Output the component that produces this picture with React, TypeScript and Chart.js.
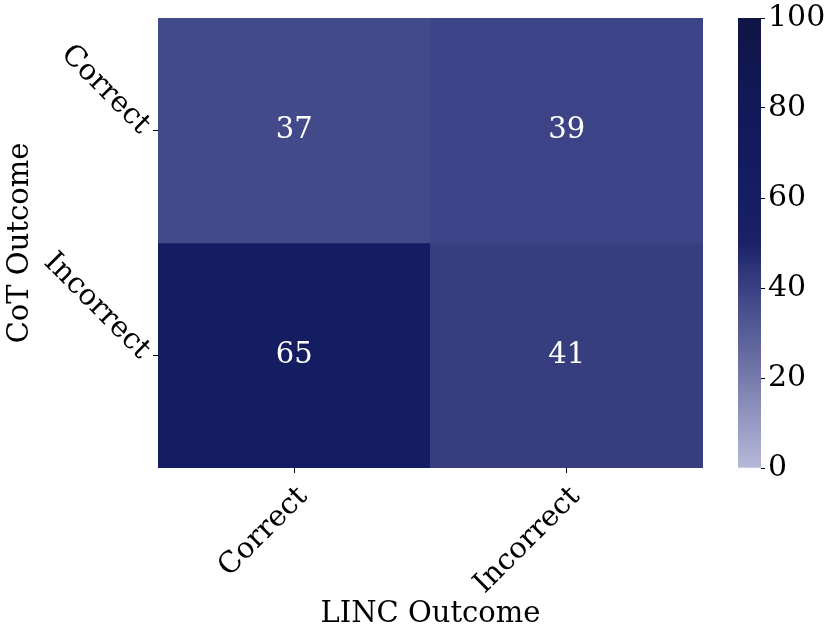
import { useEffect, useRef } from "react";
import { Chart, registerables } from "chart.js";

Chart.register(...registerables);

// ---- data ----
const xCategories = ["Correct", "Incorrect"]; // LINC Outcome
const yCategories = ["Correct", "Incorrect"]; // CoT Outcome
const rowCorrect = [37, 39];
const rowIncorrect = [65, 41];
const rows = [rowCorrect, rowIncorrect];
const colorbarTicks = [0, 20, 40, 60, 80, 100];
const xTitle = "LINC Outcome";
const yTitle = "CoT Outcome";

// colormap stops (value -> colour)
const cmapStops: [number, string][] = [
  [0, "#b6b9d8"],
  [10, "#969ac3"],
  [20, "#767bac"],
  [30, "#575e97"],
  [37, "#434a8a"],
  [39, "#3c4386"],
  [41, "#373e80"],
  [45, "#2b3377"],
  [50, "#1a2169"],
  [60, "#151d63"],
  [65, "#141c62"],
  [80, "#121959"],
  [100, "#0f1543"],
];

const FONT = "'DejaVu Serif', serif";
const FS = 29;
const FS_CB = 30;

function hexToRgb(h: string) {
  const n = parseInt(h.slice(1), 16);
  return [(n >> 16) & 255, (n >> 8) & 255, n & 255];
}
function colorFor(v: number) {
  for (let i = 0; i < cmapStops.length - 1; i++) {
    const [a, ca] = cmapStops[i];
    const [b, cb] = cmapStops[i + 1];
    if (v >= a && v <= b) {
      const t = (v - a) / (b - a);
      const A = hexToRgb(ca), B = hexToRgb(cb);
      const c = A.map((x, k) => Math.round(x + (B[k] - x) * t));
      return `rgb(${c[0]},${c[1]},${c[2]})`;
    }
  }
  return cmapStops[cmapStops.length - 1][1];
}

function zeroPad(s: any) {
  s.paddingTop = 0;
  s.paddingBottom = 0;
  s.paddingLeft = 0;
  s.paddingRight = 0;
}

const annotatePlugin = {
  id: "annotate",
  afterDatasetsDraw(chart: any) {
    const { ctx, scales } = chart;
    ctx.save();
    ctx.fillStyle = "#ffffff";
    ctx.font = `${FS}px ${FONT}`;
    ctx.textAlign = "center";
    ctx.textBaseline = "middle";
    rows.forEach((vals, r) => {
      vals.forEach((v, c) => {
        ctx.fillText(
          String(v),
          scales.x.getPixelForValue(c),
          scales.y.getPixelForValue(r + 0.5)
        );
      });
    });
    ctx.restore();
  },
};

export default function App() {
  const mainRef = useRef<HTMLCanvasElement>(null);
  const barRef = useRef<HTMLCanvasElement>(null);

  useEffect(() => {
    Chart.defaults.font.family = FONT;
    Chart.defaults.color = "#000";

    const main = new Chart(mainRef.current!, {
      type: "bar",
      data: {
        labels: xCategories,
        datasets: rows.map((vals, r) => ({
          label: yCategories[r],
          data: vals.map(() => [r, r + 1]),
          backgroundColor: vals.map((v) => colorFor(v)),
          borderWidth: 0,
          barPercentage: 1,
          categoryPercentage: 1,
          grouped: false,
        })) as any,
      },
      options: {
        animation: false,
        responsive: false,
        maintainAspectRatio: false,
        layout: { padding: { left: 0, top: 18, right: 127, bottom: 0 } },
        plugins: { legend: { display: false }, tooltip: { enabled: false } },
        scales: {
          x: {
            type: "category",
            offset: true,
            border: { display: false },
            grid: {
              offset: false,
              drawOnChartArea: false,
              drawTicks: true,
              tickLength: 5,
              color: "#000",
              lineWidth: 1,
            },
            ticks: {
              font: { size: FS, family: FONT },
              color: "#000",
              minRotation: 45,
              maxRotation: 45,
              padding: 7,
              labelOffset: 9,
              autoSkip: false,
            },
            title: {
              display: true,
              text: xTitle,
              font: { size: FS, family: FONT },
              color: "#000",
              padding: { top: 0, bottom: 6 },
            },
            afterFit: (s: any) => {
              s.height = 170;
              zeroPad(s);
            },
          },
          y: {
            type: "linear",
            min: 0,
            max: 2,
            reverse: true,
            border: { display: false },
            grid: {
              drawOnChartArea: false,
              drawTicks: true,
              tickLength: 5,
              color: "#000",
              lineWidth: 1,
            },
            afterBuildTicks: (s: any) => {
              s.ticks = yCategories.map((_, i) => ({ value: i + 0.5 }));
            },
            ticks: {
              font: { size: FS, family: FONT },
              color: "#000",
              minRotation: -45,
              maxRotation: -45,
              padding: 8,
              labelOffset: -1,
              autoSkip: false,
              callback: (v: any) => yCategories[Math.round(Number(v) - 0.5)],
            },
            title: {
              display: true,
              text: yTitle,
              font: { size: FS, family: FONT },
              color: "#000",
              padding: { top: 3, bottom: 0 },
            },
            afterFit: (s: any) => {
              s.width = 158;
              zeroPad(s);
            },
          },
        },
      },
      plugins: [annotatePlugin],
    });

    const bar = new Chart(barRef.current!, {
      type: "bar",
      data: {
        labels: [""],
        datasets: [
          {
            data: [[0, 100]] as any,
            borderWidth: 0,
            barPercentage: 1,
            categoryPercentage: 1,
            backgroundColor: (ctx: any) => {
              const { chart } = ctx;
              const area = chart.chartArea;
              if (!area) return cmapStops[0][1];
              const g = chart.ctx.createLinearGradient(0, area.bottom, 0, area.top);
              cmapStops.forEach(([v, c]) => g.addColorStop(v / 100, c));
              return g;
            },
          },
        ],
      },
      options: {
        animation: false,
        responsive: false,
        maintainAspectRatio: false,
        layout: { padding: { left: 38, top: 18, right: 0, bottom: 170 } },
        plugins: { legend: { display: false }, tooltip: { enabled: false } },
        scales: {
          x: {
            display: false,
            afterFit: (s: any) => {
              s.height = 0;
              zeroPad(s);
            },
          },
          y: {
            position: "right",
            min: 0,
            max: 100,
            border: { display: false },
            grid: {
              drawOnChartArea: false,
              drawTicks: true,
              tickLength: 4,
              color: "#000",
            },
            afterBuildTicks: (s: any) => {
              s.ticks = colorbarTicks.map((v) => ({ value: v }));
            },
            ticks: {
              font: { size: FS_CB, family: FONT },
              color: "#000",
              padding: 3,
            },
            afterFit: (s: any) => {
              s.width = 130 - 38 - 23;
              zeroPad(s);
            },
          },
        },
      },
    });

    return () => {
      main.destroy();
      bar.destroy();
    };
  }, []);

  return (
    <div style={{ position: "fixed", left: 0, top: 0, width: 830, height: 638, background: "#fff" }}>
      <canvas
        ref={mainRef}
        width={830}
        height={638}
        style={{ position: "absolute", left: 0, top: 0, width: 830, height: 638 }}
      />
      <canvas
        ref={barRef}
        width={130}
        height={638}
        style={{ position: "absolute", left: 700, top: 0, width: 130, height: 638 }}
      />
    </div>
  );
}
